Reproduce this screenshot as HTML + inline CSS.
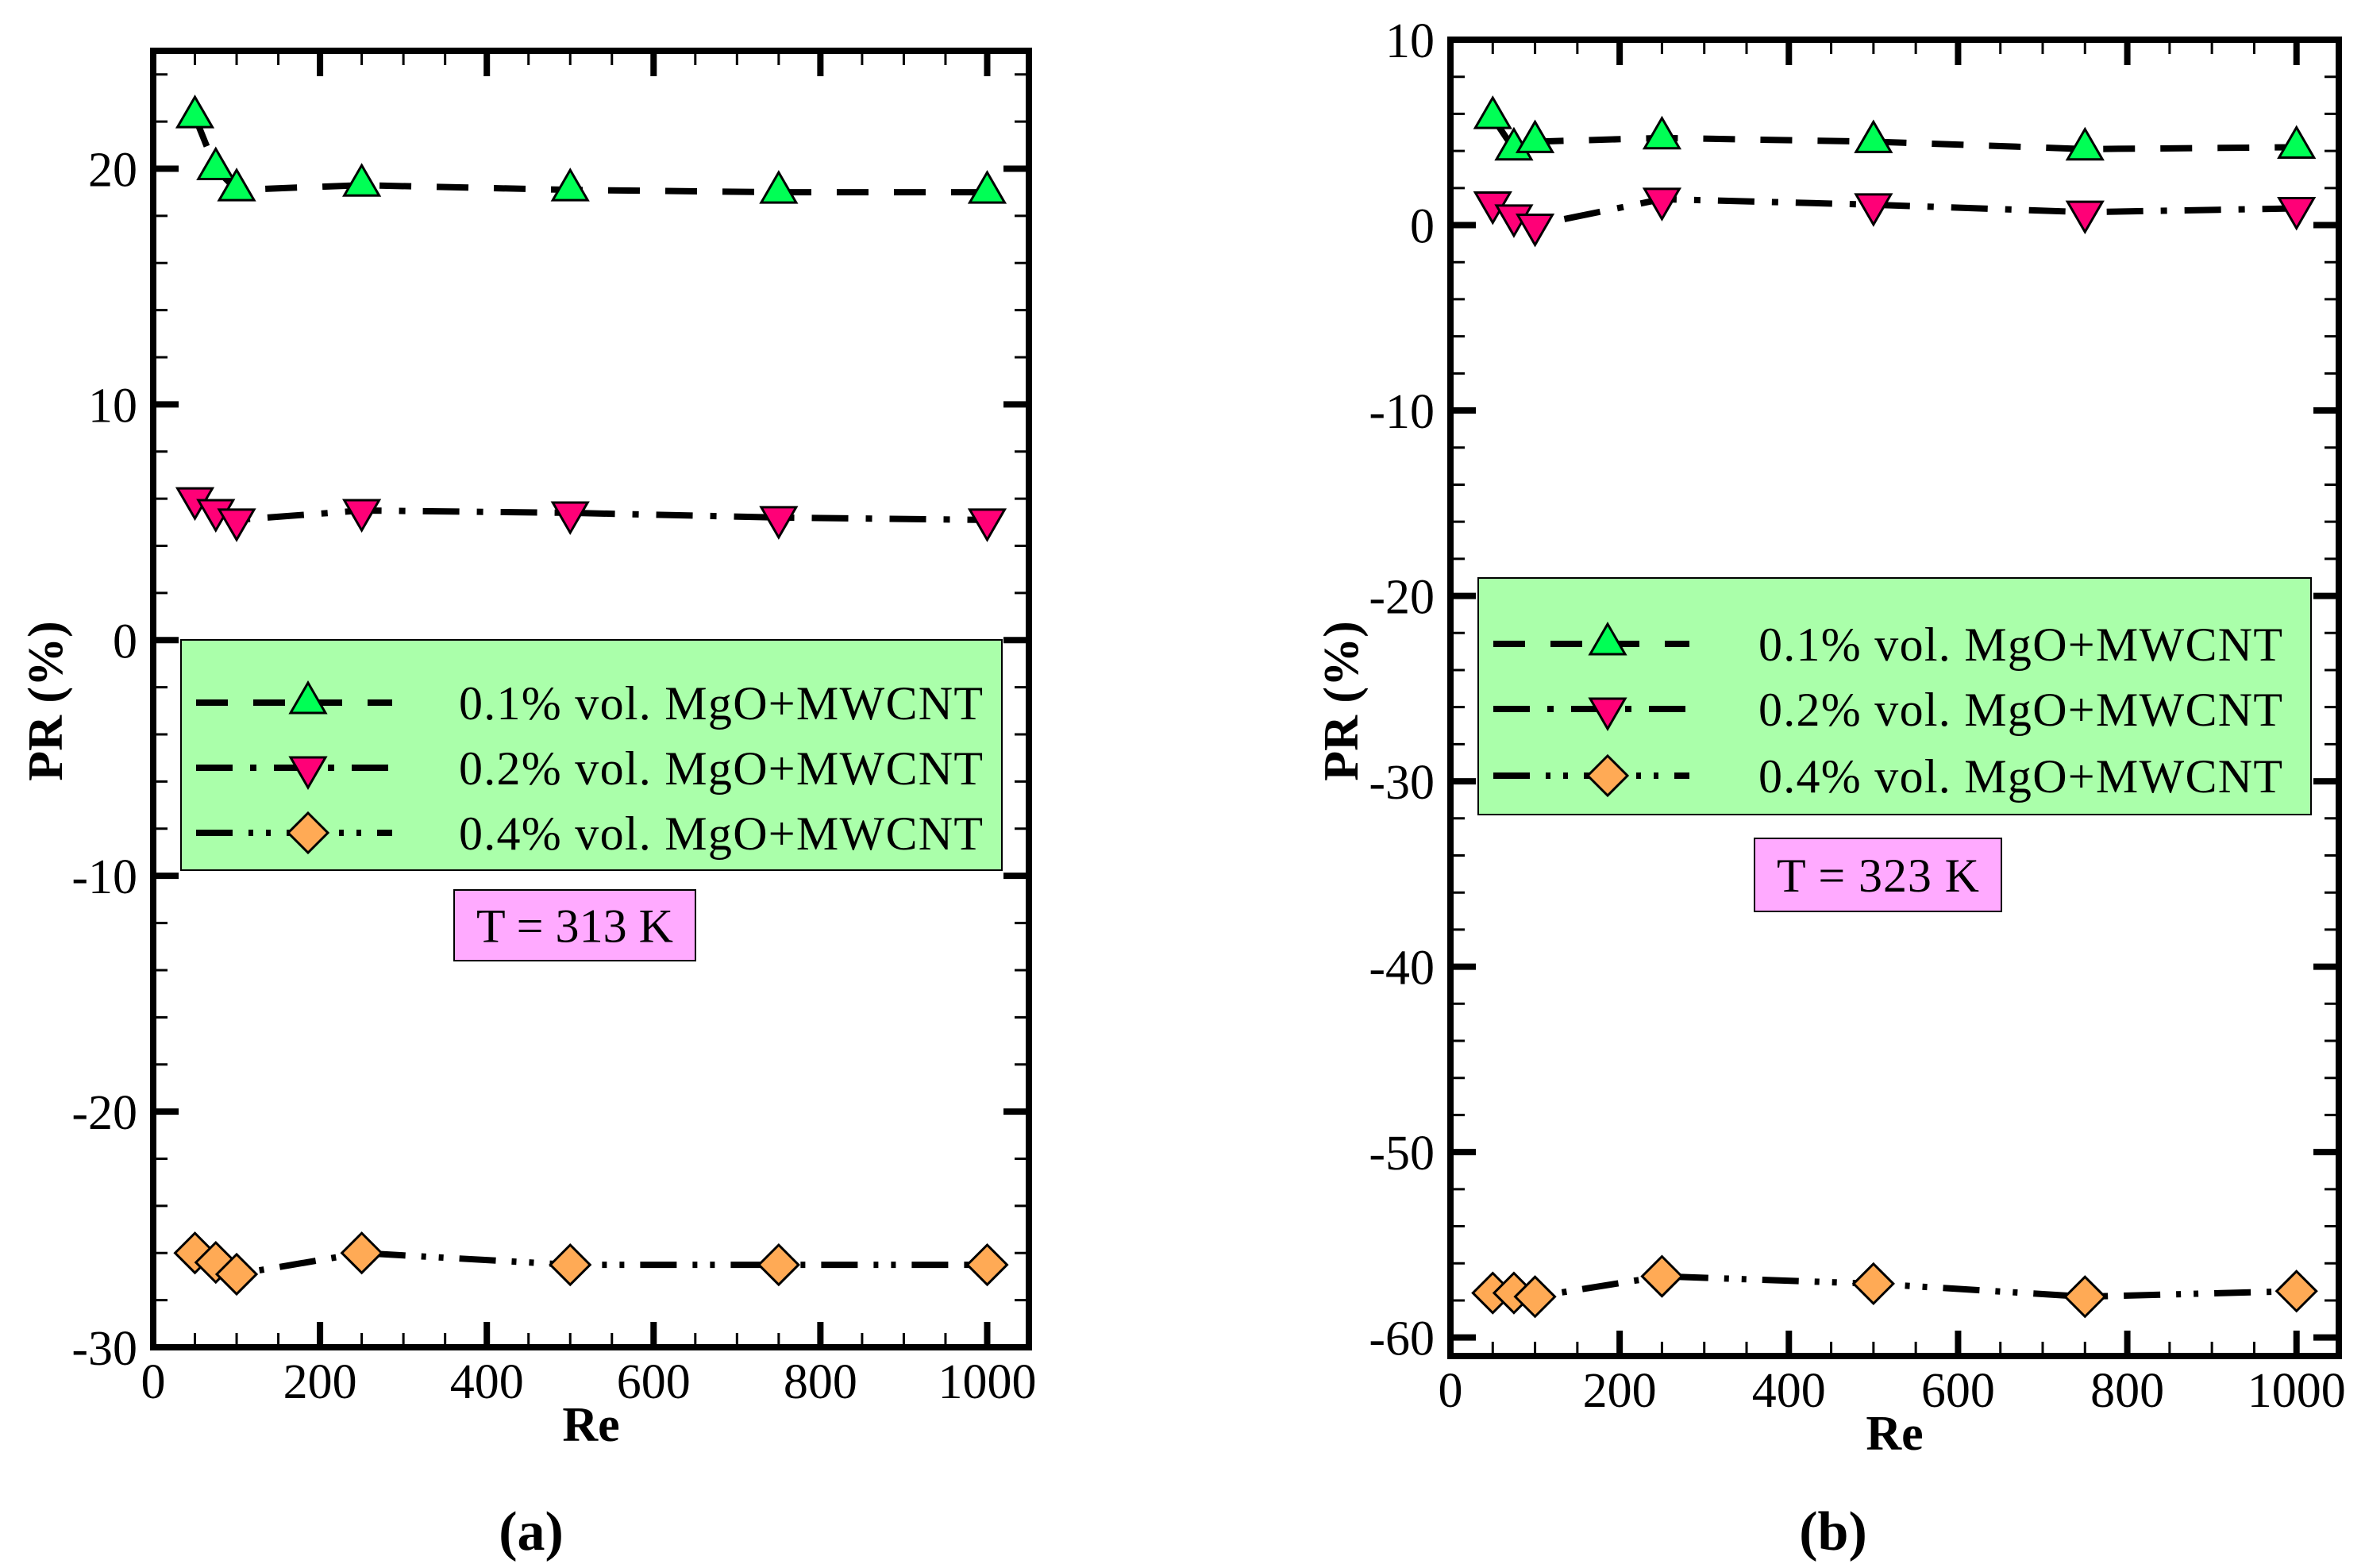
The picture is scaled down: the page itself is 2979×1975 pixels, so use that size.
<!DOCTYPE html>
<html><head><meta charset="utf-8">
<style>
html,body{margin:0;padding:0;background:#fff;}
svg{display:block;}
text{font-family:"Liberation Serif","DejaVu Serif",serif;}
</style></head>
<body>
<svg id="fig" width="2979" height="1975" viewBox="0 0 2979 1975" xmlns="http://www.w3.org/2000/svg"></svg>
<script>
const reValues = [50, 75, 100, 250, 500, 750, 1000];
const seriesLabels = ["0.1% vol. MgO+MWCNT", "0.2% vol. MgO+MWCNT", "0.4% vol. MgO+MWCNT"];
const a01 = [22.2, 20.0, 19.1, 19.3, 19.1, 19.0, 19.0];
const a02 = [6.0, 5.5, 5.1, 5.5, 5.4, 5.2, 5.1];
const a04 = [-26.0, -26.4, -26.9, -26.0, -26.5, -26.5, -26.5];
const b01 = [5.8, 4.1, 4.5, 4.7, 4.5, 4.1, 4.2];
const b02 = [1.2, 0.5, 0.0, 1.4, 1.1, 0.7, 0.9];
const b04 = [-57.6, -57.6, -57.8, -56.7, -57.1, -57.8, -57.5];
const xTicks = [0, 200, 400, 600, 800, 1000];
const aYTicks = [-30, -20, -10, 0, 10, 20];
const bYTicks = [-60, -50, -40, -30, -20, -10, 0, 10];

const NS = "http://www.w3.org/2000/svg";
const svg = document.getElementById("fig");
function el(tag, attrs, parent, text) {
  const e = document.createElementNS(NS, tag);
  for (const k in attrs) e.setAttribute(k, attrs[k]);
  if (tag === "text") e.setAttribute("font-family", "Liberation Serif, DejaVu Serif, serif");
  if (text !== undefined) e.textContent = text;
  (parent || svg).appendChild(e);
  return e;
}
const dashes = ["40 32", "46 22 8 22", "46 20 6 16 6 20"];
const fills = ["#00ff55", "#ff0077", "#ffaa55"];

function marker(g, type, cx, cy) {
  let m;
  if (type === 0) m = el("polygon", {points: `${cx},${cy-25} ${cx-22},${cy+13} ${cx+22},${cy+13}`, fill: fills[0], stroke: "#000", "stroke-width": 3}, g);
  else if (type === 1) m = el("polygon", {points: `${cx},${cy+25} ${cx-22},${cy-13} ${cx+22},${cy-13}`, fill: fills[1], stroke: "#000", "stroke-width": 3}, g);
  else m = el("polygon", {points: `${cx},${cy-25} ${cx+25},${cy} ${cx},${cy+25} ${cx-25},${cy}`, fill: fills[2], stroke: "#000", "stroke-width": 3}, g);
  return m;
}

function panel(cfg) {
  const g = el("g", {});
  
  
  const X = v => cfg.left + (v - 0) / 1050 * (cfg.right - cfg.left);
  const Y = v => cfg.top + (cfg.ymax - v) / (cfg.ymax - cfg.ymin) * (cfg.bottom - cfg.top);
  for (let v = 50; v < 1050; v += 50) {
    const major = v % 200 === 0;
    const len = major ? 32 : 18;
    const x = X(v);
    const t1 = el("line", {x1: x, y1: cfg.bottom, x2: x, y2: cfg.bottom - len, stroke: "#000", "stroke-width": major ? 8 : 3}, g);
    
    
    el("line", {x1: x, y1: cfg.top, x2: x, y2: cfg.top + len, stroke: "#000", "stroke-width": major ? 8 : 3}, g);
  }
  for (let v = Math.ceil(cfg.ymin / 2) * 2; v <= cfg.ymax; v += 2) {
    const major = v % 10 === 0;
    const len = major ? 32 : 18;
    const y = Y(v);
    const t1 = el("line", {x1: cfg.left, y1: y, x2: cfg.left + len, y2: y, stroke: "#000", "stroke-width": major ? 8 : 3}, g);
    
    
    el("line", {x1: cfg.right, y1: y, x2: cfg.right - len, y2: y, stroke: "#000", "stroke-width": major ? 8 : 3}, g);
  }
  const frame = el("rect", {x: cfg.left, y: cfg.top, width: cfg.right - cfg.left, height: cfg.bottom - cfg.top, fill: "none", stroke: "#000", "stroke-width": 8}, g);
  
  
  xTicks.forEach(v => {
    const t = el("text", {x: X(v), y: cfg.bottom + 64, "font-size": 62, "text-anchor": "middle"}, g, String(v));
    
    
  });
  cfg.yTicks.forEach(v => {
    const t = el("text", {x: cfg.left - 20, y: Y(v) + 22, "font-size": 62, "text-anchor": "end"}, g, String(v));
    
    
  });
  cfg.series.forEach((s, i) => {
    const sg = el("g", {}, g);
    
    
    const pts = reValues.map((r, k) => X(r) + "," + Y(s[k])).join(" ");
    const pl = el("polyline", {points: pts, fill: "none", stroke: "#000", "stroke-width": 8, "stroke-dasharray": dashes[i]}, sg);
    
    
    reValues.forEach((r, k) => {
      const m = marker(sg, i, X(r), Y(s[k]));
      
      
    });
  });
  const L = cfg.legend;
  const lg = el("g", {}, g);
  
  
  el("rect", {x: L.x, y: L.y, width: L.w, height: L.h, fill: "#aaffaa", stroke: "#000", "stroke-width": 2}, lg);
  seriesLabels.forEach((lab, i) => {
    const ry = L.rows[i];
    const e = el("g", {}, lg);
    
    
    el("line", {x1: L.lx1, y1: ry, x2: L.lx2, y2: ry, stroke: "#000", "stroke-width": 8, "stroke-dasharray": dashes[i]}, e);
    marker(e, i, L.mx, ry);
    el("text", {x: L.tx, y: ry + 21, "font-size": 60, textLength: 660, lengthAdjust: "spacing"}, e, lab);
  });
  const T = cfg.tbox;
  const tg = el("g", {}, g);
  
  
  el("rect", {x: T.x, y: T.y, width: T.w, height: T.h, fill: "#ffaaff", stroke: "#000", "stroke-width": 2}, tg);
  el("text", {x: T.x + 28, y: T.y + T.h / 2 + 21, "font-size": 60, textLength: T.w - 56, lengthAdjust: "spacing"}, tg, cfg.tlabel);
  const xt = el("text", {x: (cfg.left + cfg.right) / 2, y: cfg.bottom + 118, "font-size": 62, "font-weight": "bold", "text-anchor": "middle"}, g, "Re");
  
  
  const yt = el("text", {x: 0, y: 0, "font-size": 62, "font-weight": "bold", "text-anchor": "middle", transform: `translate(${cfg.ytx},${cfg.yty}) rotate(-90)`}, g, "PR (%)");
  
  
  const cap = el("text", {x: cfg.capx, y: 1952, "font-size": 70, "font-weight": "bold", "text-anchor": "middle"}, g, cfg.cap);
  
  
}

panel({name: "panel-a", left: 193, right: 1296, top: 64, bottom: 1697, ymin: -30, ymax: 25,
  yTicks: aYTicks, series: [a01, a02, a04],
  legend: {x: 228, y: 806, w: 1034, h: 290, rows: [885, 967, 1049], lx1: 247, lx2: 494, mx: 388, tx: 578},
  tbox: {x: 572, y: 1121, w: 304, h: 89}, tlabel: "T = 313 K",
  ytx: 78, yty: 883, capx: 669, cap: "(a)"});
panel({name: "panel-b", left: 1827, right: 2946, top: 50, bottom: 1708, ymin: -61, ymax: 10,
  yTicks: bYTicks, series: [b01, b02, b04],
  legend: {x: 1862, y: 728, w: 1049, h: 298, rows: [811, 893, 977], lx1: 1881, lx2: 2128, mx: 2025, tx: 2215},
  tbox: {x: 2210, y: 1056, w: 311, h: 92}, tlabel: "T = 323 K",
  ytx: 1710, yty: 883, capx: 2309, cap: "(b)"});
</script>
</body></html>
